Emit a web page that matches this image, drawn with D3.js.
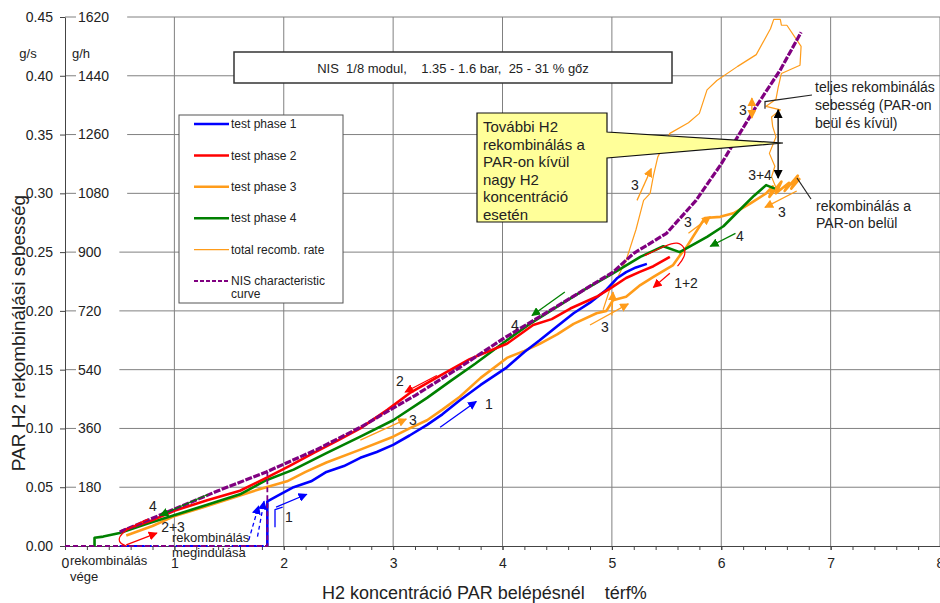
<!DOCTYPE html>
<html>
<head>
<meta charset="utf-8">
<title>PAR H2 rekombináció</title>
<script src="https://cdn.jsdelivr.net/npm/d3@7"></script>
<style>
  body { margin: 0; background: #fff; }
  svg { display: block; font-family: "Liberation Sans", Arial, sans-serif; }
</style>
</head>
<body>
<div id="chart"></div>
<script>
// axis ticks
var xTicks = [0, 1, 2, 3, 4, 5, 6, 7, 8];
var gsTicks = [0, 0.05, 0.10, 0.15, 0.20, 0.25, 0.30, 0.35, 0.40, 0.45];
var ghLabels = ["", "180", "360", "540", "720", "900", "1080", "1260", "1440", "1620"];

// series, [H2 térf%, g/s]
var phase1Start = [[0.5, 0], [1.85, 0]];
var phase1 = [[1.85, 0], [1.85, 0.038], [1.95, 0.043], [2.09, 0.050], [2.25, 0.055], [2.39, 0.063], [2.55, 0.068],
  [2.70, 0.075], [2.85, 0.080], [3.00, 0.086], [3.15, 0.094], [3.31, 0.103], [3.45, 0.112], [3.61, 0.124],
  [3.80, 0.137], [4.04, 0.152], [4.20, 0.165], [4.34, 0.175], [4.50, 0.187], [4.65, 0.198], [4.80, 0.207],
  [4.95, 0.218], [5.05, 0.228], [5.13, 0.233], [5.22, 0.237], [5.32, 0.240]];
var phase2 = [[0.52, 0.013], [0.80, 0.022], [1.00, 0.030], [1.30, 0.039], [1.60, 0.047], [1.84, 0.058],
  [2.05, 0.068], [2.27, 0.079], [2.50, 0.090], [2.70, 0.100], [2.95, 0.116], [3.15, 0.130], [3.43, 0.145],
  [3.70, 0.159], [4.04, 0.172], [4.28, 0.188], [4.45, 0.193], [4.62, 0.202], [4.86, 0.212], [5.00, 0.220],
  [5.13, 0.228], [5.25, 0.233], [5.38, 0.238], [5.53, 0.246]];
var phase3 = [[0.56, 0.009], [0.80, 0.017], [0.99, 0.025], [1.30, 0.034], [1.60, 0.043], [1.80, 0.049],
  [2.03, 0.055], [2.20, 0.063], [2.39, 0.071], [2.70, 0.082], [3.00, 0.093], [3.15, 0.100], [3.31, 0.107],
  [3.45, 0.116], [3.61, 0.127], [3.80, 0.143], [4.04, 0.160], [4.20, 0.166], [4.34, 0.172], [4.50, 0.180],
  [4.65, 0.189], [4.86, 0.198], [4.95, 0.200], [5.01, 0.209], [5.13, 0.212], [5.26, 0.222], [5.38, 0.229],
  [5.56, 0.239], [5.62, 0.247], [5.68, 0.254], [5.85, 0.279], [5.99, 0.280], [6.11, 0.283], [6.26, 0.291],
  [6.41, 0.300], [6.47, 0.306], [6.44, 0.297], [6.55, 0.310], [6.50, 0.300], [6.62, 0.309], [6.58, 0.302],
  [6.70, 0.315], [6.64, 0.304], [6.72, 0.313]];
var phase4 = [[0.27, 0], [0.27, 0.007], [0.35, 0.008], [0.50, 0.011], [0.75, 0.019], [0.99, 0.026],
  [1.30, 0.035], [1.60, 0.044], [1.84, 0.056], [2.09, 0.065], [2.39, 0.079], [2.70, 0.093], [3.00, 0.107],
  [3.31, 0.126], [3.52, 0.140], [3.75, 0.155], [4.04, 0.175], [4.25, 0.189], [4.49, 0.203], [4.75, 0.218],
  [5.01, 0.232], [5.26, 0.246], [5.47, 0.255], [5.62, 0.250], [5.87, 0.263], [6.02, 0.272], [6.17, 0.286],
  [6.30, 0.298], [6.41, 0.307], [6.49, 0.304]];
var totalRate = [[4.92, 0.201], [4.98, 0.218], [5.05, 0.228], [5.13, 0.243], [5.22, 0.269], [5.29, 0.294],
  [5.35, 0.300], [5.38, 0.315], [5.42, 0.331], [5.53, 0.351], [5.70, 0.360], [5.80, 0.368], [5.87, 0.388],
  [5.96, 0.396], [6.15, 0.408], [6.32, 0.418], [6.45, 0.440], [6.48, 0.448], [6.54, 0.448], [6.55, 0.443],
  [6.60, 0.443], [6.73, 0.425], [6.72, 0.409], [6.55, 0.402], [6.52, 0.390], [6.50, 0.380], [6.41, 0.374],
  [6.54, 0.371], [6.46, 0.365], [6.47, 0.357], [6.50, 0.348], [6.44, 0.334], [6.49, 0.323], [6.46, 0.314],
  [6.50, 0.305]];
var nisStart = [[0, 0], [1.85, 0], [1.85, 0.063]];
var nisCurve = [[0.50, 0.012], [0.99, 0.031], [1.40, 0.047], [1.84, 0.063], [2.30, 0.082], [2.70, 0.101],
  [3.20, 0.128], [3.61, 0.152], [4.00, 0.176], [4.50, 0.204], [5.01, 0.233], [5.20, 0.249], [5.50, 0.266],
  [5.77, 0.294], [6.00, 0.325], [6.11, 0.342], [6.32, 0.374], [6.54, 0.405], [6.73, 0.437]];

// hand drawn arrows [x1, y1, x2, y2]
var blueArrows = [[1.93, 0.033, 2.21, 0.044], [3.43, 0.101, 3.76, 0.123]];
var blueDashArrows = [[1.68, 0.005, 1.77, 0.034], [1.76, 0.008, 1.82, 0.038]];
var blueBracket = [[1.92, 0.016], [1.92, 0.031], [1.99, 0.033]];
var redArrows = [[3.40, 0.145, 3.11, 0.131], [0.56, 0.001, 0.84, 0.011], [5.53, 0.232, 5.38, 0.220]];
var redHook = [[0.76, 0.023], [0.51, 0.012], [0.48, 0.003], [0.56, 0.0]];
var redLoop = [[5.30, 0.247], [5.50, 0.256], [5.60, 0.259], [5.67, 0.254], [5.67, 0.246], [5.60, 0.238]];
var greenArrows = [[1.31, 0.044, 0.87, 0.026], [4.57, 0.216, 4.27, 0.196], [6.13, 0.266, 5.90, 0.255]];
var orangeArrows = [[2.70, 0.090, 3.12, 0.108], [4.80, 0.188, 5.15, 0.206], [5.00, 0.196, 5.01, 0.216],
  [5.23, 0.294, 5.36, 0.321], [5.70, 0.266, 5.90, 0.280], [6.69, 0.302, 6.40, 0.288]];
var orangeDouble = [[6.28, 0.364, 6.28, 0.381]];
var blackDouble = [[6.52, 0.371, 6.52, 0.313]];

var legendItems = [
  {name: "test phase 1", color: "#0000ff", w: 2.5},
  {name: "test phase 2", color: "#ff0000", w: 2.5},
  {name: "test phase 3", color: "#ff9c1a", w: 2.5},
  {name: "test phase 4", color: "#008000", w: 2.5},
  {name: "total recomb. rate", color: "#ff9c1a", w: 1.2},
  {name: "NIS characteristic", color: "#800080", w: 2, dash: "4,2"}
];

var W = 940, H = 603;
var svg = d3.select("#chart").append("svg").attr("width", W).attr("height", H);

var x = d3.scaleLinear().domain([0, 8]).range([65, 940]);
var y = d3.scaleLinear().domain([0, 0.45]).range([546, 17]);

// grid
svg.append("g").selectAll("line.h").data(gsTicks.slice(1)).enter().append("line")
  .attr("x1", x(0)).attr("x2", x(8)).attr("y1", d => y(d)).attr("y2", d => y(d))
  .attr("stroke", "#808080").attr("stroke-width", 1);
svg.append("g").selectAll("line.v").data(xTicks.slice(1)).enter().append("line")
  .attr("x1", d => x(d)).attr("x2", d => x(d)).attr("y1", y(0)).attr("y2", y(0.45))
  .attr("stroke", "#808080").attr("stroke-width", 1);

// y axis (g/s)
var yAx = svg.append("g").attr("transform", "translate(" + x(0) + ",0)")
  .call(d3.axisLeft(y).tickValues(gsTicks).tickFormat(d3.format(".2f")).tickSize(5).tickSizeOuter(0).tickPadding(7));
yAx.selectAll("text").attr("font-size", 14).attr("fill", "#222").attr("font-family", "Liberation Sans, Arial, sans-serif");
yAx.selectAll("line, path").attr("stroke", "#444");

// g/h labels with white boxes
gsTicks.forEach(function(v, i) {
  if (!ghLabels[i]) return;
  var g = svg.append("g");
  var r = g.append("rect").attr("fill", "#fff");
  var t = g.append("text").attr("x", 78).attr("y", y(v)).attr("dy", "0.35em")
    .attr("font-size", 14).attr("fill", "#222").text(ghLabels[i]);
  var len = t.node().getComputedTextLength();
  r.attr("x", 76).attr("y", y(v) - 12).attr("width", len + 20).attr("height", 24);
});

// x axis
var xAx = svg.append("g").attr("transform", "translate(0," + y(0) + ")")
  .call(d3.axisBottom(x).tickValues(xTicks).tickFormat(d3.format("d")).tickSize(4).tickSizeOuter(0).tickPadding(8));
xAx.selectAll("text").attr("font-size", 14).attr("fill", "#222").attr("font-family", "Liberation Sans, Arial, sans-serif");
xAx.selectAll("line, path").attr("stroke", "#444");
svg.append("g").attr("transform", "translate(0," + y(0) + ")")
  .call(d3.axisBottom(x).tickValues(d3.range(0, 40).map(d => d / 5)).tickFormat("").tickSize(4).tickSizeOuter(0))
  .selectAll("line, path").attr("stroke", "#444");

// units and axis titles
svg.append("text").attr("x", 28).attr("y", 53).attr("dy", "0.35em").attr("text-anchor", "middle")
  .attr("font-size", 13).attr("fill", "#222").text("g/s");
svg.append("text").attr("x", 81).attr("y", 53).attr("dy", "0.35em").attr("text-anchor", "middle")
  .attr("font-size", 13).attr("fill", "#222").text("g/h");
svg.append("text").attr("transform", "translate(18,333) rotate(-90)").attr("dy", "0.35em")
  .attr("text-anchor", "middle").attr("font-size", 19).attr("fill", "#222")
  .text("PAR H2 rekombinálási sebesség");
svg.append("text").attr("x", 322).attr("y", 593).attr("dy", "0.35em").attr("font-size", 18).attr("fill", "#222")
  .attr("xml:space", "preserve").style("white-space", "pre")
  .text("H2 koncentráció PAR belépésnél    térf%");

// title box
svg.append("rect").attr("x", 234).attr("y", 52).attr("width", 438).attr("height", 31)
  .attr("fill", "#fff").attr("stroke", "#333").attr("stroke-width", 1.5);
svg.append("text").attr("x", 453).attr("y", 68).attr("dy", "0.35em").attr("text-anchor", "middle")
  .attr("font-size", 13).attr("fill", "#222").style("white-space", "pre")
  .text("NIS  1/8 modul,    1.35 - 1.6 bar,  25 - 31 % gőz");

// markers
var defs = svg.append("defs");
[["blue", "#0000ff"], ["red", "#ff0000"], ["green", "#008000"], ["orange", "#ff9c1a"], ["black", "#000"]]
  .forEach(function(c) {
    defs.append("marker").attr("id", "ah-" + c[0]).attr("viewBox", "0 0 10 10")
      .attr("refX", 9).attr("refY", 5).attr("markerWidth", 9).attr("markerHeight", 9)
      .attr("markerUnits", "userSpaceOnUse").attr("orient", "auto-start-reverse")
      .append("path").attr("d", "M0,0 L10,5 L0,10 z").attr("fill", c[1]);
  });

var line = d3.line().x(d => x(d[0])).y(d => y(d[1]));
var smooth = d3.line().x(d => x(d[0])).y(d => y(d[1])).curve(d3.curveBasis);

function drawPath(data, color, w, dash, gen) {
  var p = svg.append("path").datum(data).attr("d", gen || line).attr("fill", "none")
    .attr("stroke", color).attr("stroke-width", w).attr("stroke-linejoin", "round");
  if (dash) p.attr("stroke-dasharray", dash);
  return p;
}

function drawArrows(list, key, color, dash, both) {
  list.forEach(function(a) {
    var l = svg.append("line").attr("x1", x(a[0])).attr("y1", y(a[1])).attr("x2", x(a[2])).attr("y2", y(a[3]))
      .attr("stroke", color).attr("stroke-width", 1.3).attr("marker-end", "url(#ah-" + key + ")");
    if (dash) l.attr("stroke-dasharray", dash);
    if (both) l.attr("marker-start", "url(#ah-" + key + ")");
  });
}

// series
drawPath(totalRate, "#ff9c1a", 1.2);
drawPath(phase3, "#ff9c1a", 2.6);
drawPath(phase1Start, "#0000ff", 1.8, "4,3");
drawPath(phase1, "#0000ff", 2.6);
drawPath(phase4, "#008000", 2.6);
drawPath(phase2, "#ff0000", 2.6);
drawPath(nisStart, "#800080", 1.8, "5,3");
drawPath(nisCurve, "#800080", 3.2, "7,1.5");

// annotations
drawArrows(blueArrows, "blue", "#0000ff");
drawArrows(blueDashArrows, "blue", "#0000ff", "4,3");
drawPath(blueBracket, "#0000ff", 1.3);
drawArrows(redArrows, "red", "#ff0000");
drawPath(redHook, "#ff0000", 1.2, null, smooth);
drawPath(redLoop, "#ff0000", 1.2, null, smooth);
drawArrows(greenArrows, "green", "#008000");
drawArrows(orangeArrows, "orange", "#ff9c1a");
drawArrows(orangeDouble, "orange", "#ff9c1a", null, true);
drawArrows(blackDouble, "black", "#000", null, true);

// pointer lines to right hand texts
svg.append("path").attr("d", "M" + x(6.40) + "," + (y(0.372)) + "V" + y(0.378) + "L812,95")
  .attr("fill", "none").attr("stroke", "#222").attr("stroke-width", 1.2);
svg.append("line").attr("x1", 797).attr("y1", 178).attr("x2", 811).attr("y2", 199)
  .attr("stroke", "#222").attr("stroke-width", 1.2);

// callout
svg.append("path").attr("d", "M477,113 H607 V132 L783,143 L607,158 V222 H477 Z")
  .attr("fill", "#ffff99").attr("stroke", "#111").attr("stroke-width", 1.2);
["További H2", "rekombinálás a", "PAR-on kívül", "nagy H2", "koncentráció", "esetén"].forEach(function(s, i) {
  svg.append("text").attr("x", 483).attr("y", 127 + i * 17.5).attr("dy", "0.35em")
    .attr("font-size", 15).attr("fill", "#222").text(s);
});

// short labels
var labels = [["1", 489, 404], ["1", 289, 517], ["2", 400, 381], ["3", 413, 420], ["2+3", 173, 527],
  ["4", 153, 506], ["4", 515, 325], ["3", 605, 327], ["1+2", 686, 283], ["4", 740, 236], ["3", 688, 222],
  ["3", 782, 212], ["3", 635, 185], ["3+4", 760, 175], ["3", 743, 110]];
labels.forEach(function(l) {
  svg.append("text").attr("x", l[1]).attr("y", l[2]).attr("dy", "0.35em").attr("text-anchor", "middle")
    .attr("font-size", 14).attr("fill", "#222").text(l[0]);
});

var notes = [["rekombinálás", 172, 537], ["megindulása", 172, 552], ["rekombinálás", 70, 560], ["vége", 70, 576],
  ["teljes rekombinálás", 815, 87], ["sebesség (PAR-on", 815, 105], ["beül és kívül)", 815, 123],
  ["rekombinálás a", 816, 206], ["PAR-on belül", 816, 223]];
notes.forEach(function(n, i) {
  svg.append("text").attr("x", n[1]).attr("y", n[2]).attr("dy", "0.35em")
    .attr("font-size", i < 4 ? 13 : 14).attr("fill", "#222").text(n[0]);
});

// legend
var lg = svg.append("g");
lg.append("rect").attr("x", 179).attr("y", 115).attr("width", 164).attr("height", 188)
  .attr("fill", "#fff").attr("stroke", "#555").attr("stroke-width", 1);
legendItems.forEach(function(it, i) {
  var yy = 124 + i * 31.4;
  var l = lg.append("line").attr("x1", 194).attr("x2", 229).attr("y1", yy).attr("y2", yy)
    .attr("stroke", it.color).attr("stroke-width", it.w);
  if (it.dash) l.attr("stroke-dasharray", it.dash);
  lg.append("text").attr("x", 231).attr("y", yy).attr("dy", "0.35em").attr("font-size", 12)
    .attr("fill", "#222").text(it.name);
});
lg.append("text").attr("x", 231).attr("y", 294).attr("dy", "0.35em").attr("font-size", 12)
  .attr("fill", "#222").text("curve");
</script>
</body>
</html>
